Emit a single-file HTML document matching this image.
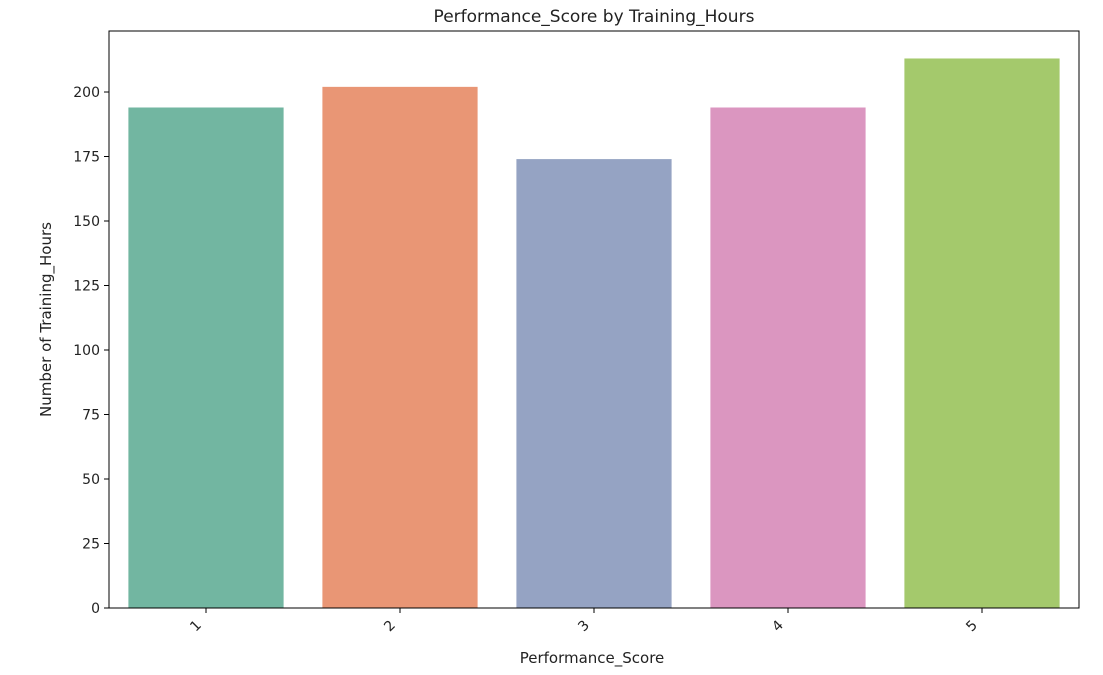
<!DOCTYPE html>
<html><head><meta charset="utf-8"><style>
body{margin:0;background:#fff;}
svg{display:block;font-family:"DejaVu Sans","Liberation Sans",sans-serif;}
</style></head><body>
<svg id="chart" width="1103" height="675"></svg>
<script>
const categories = ["1","2","3","4","5"];
const values = [194, 202, 174, 194, 213];
const colors = ["#72b6a1","#e99675","#95a3c3","#db96c0","#a4c96c"];
const yTicks = [0,25,50,75,100,125,150,175,200];

const NS="http://www.w3.org/2000/svg";
const svg=document.getElementById('chart');
const L=109,R=1079,T=31,B=608;
const yMax=Math.max(...values)*1.05;
const y=v=>B-(v/yMax)*(B-T);
const band=(R-L)/categories.length;
const x=i=>L+band*(i+0.5);
function mk(tag,attrs,parent){const e=document.createElementNS(NS,tag);for(const k in attrs)e.setAttribute(k,attrs[k]);(parent||svg).appendChild(e);return e;}

values.forEach((v,i)=>{
  const r=mk('rect',{x:x(i)-band*0.4,y:y(v),width:band*0.8,height:B-y(v),fill:colors[i]});
  
  
});
const frame=mk('rect',{x:L,y:T,width:R-L,height:B-T,fill:'none',stroke:'#000','stroke-width':1});



yTicks.forEach(t=>{
  const yy=y(t);
  mk('line',{x1:L-5,x2:L,y1:yy,y2:yy,stroke:'#000'});
  const tx=mk('text',{x:L-9,y:yy+5,'text-anchor':'end','font-size':14,fill:'#222'});
  tx.textContent=t;
  
  
});
categories.forEach((c,i)=>{
  const xx=x(i);
  mk('line',{x1:xx,x2:xx,y1:B,y2:B+5,stroke:'#000'});
  const ax=xx-4, ay=B+18;
  const tx=mk('text',{x:ax,y:ay,'text-anchor':'end','font-size':14,fill:'#222',transform:`rotate(-45 ${ax} ${ay})`});
  tx.textContent=c;
  
  
});
const title=mk('text',{x:(L+R)/2,y:22,'text-anchor':'middle','font-size':17,fill:'#222'});
title.textContent='Performance_Score by Training_Hours';


const xt=mk('text',{x:(L+R)/2-2,y:663,'text-anchor':'middle','font-size':15,fill:'#222'});
xt.textContent='Performance_Score';


const yt=mk('text',{x:51,y:(T+B)/2,'text-anchor':'middle','font-size':15,fill:'#222',transform:`rotate(-90 51 ${(T+B)/2})`});
yt.textContent='Number of Training_Hours';


</script>
</body></html>
